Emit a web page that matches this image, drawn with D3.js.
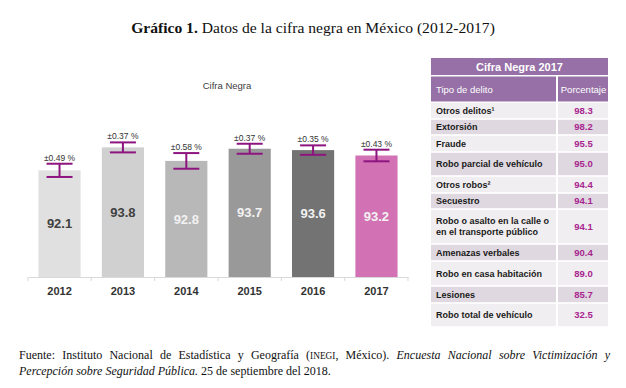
<!DOCTYPE html>
<html>
<head>
<meta charset="utf-8">
<script src="https://cdn.jsdelivr.net/npm/d3@7"></script>
<style>
  body { margin: 0; background: #fff; }
  svg { display: block; }
</style>
</head>
<body>
<div id="chart"></div>
<script>
// chart data
var years = ["2012", "2013", "2014", "2015", "2016", "2017"];
var cifra = [92.1, 93.8, 92.8, 93.7, 93.6, 93.2];
var errorPct = [0.49, 0.37, 0.58, 0.37, 0.35, 0.43];

// table data
var delitos = ["Otros delitos\u00b9", "Extorsión", "Fraude", "Robo parcial de vehículo",
  "Otros robos\u00b2", "Secuestro", "Robo o asalto en la calle o\nen el transporte público",
  "Amenazas verbales", "Robo en casa habitación", "Lesiones", "Robo total de vehículo"];
var porcentaje = [98.3, 98.2, 95.5, 95.0, 94.4, 94.1, 94.1, 90.4, 89.0, 85.7, 32.5];

// layout / styles
var barColors = ["#e0e0e0", "#d0d0d0", "#b8b8b8", "#999999", "#737373", "#d272b4"];
var labelColors = ["#404040", "#404040", "#f2f2f2", "#f2f2f2", "#f2f2f2", "#f2f2f2"];
var rowHeights = [17, 16, 17, 24, 17, 16, 35, 17, 25, 17, 24];
var errColor = "#8e1480";

var W = 626, H = 388;
var svg = d3.select("#chart").append("svg")
  .attr("width", W)
  .attr("height", H);

// main title
var title = svg.append("text")
  .attr("x", 313)
  .attr("y", 33)
  .attr("text-anchor", "middle")
  .style("font-family", "'Liberation Serif', serif")
  .style("font-size", "15.6px")
  .style("fill", "#111");
title.append("tspan").style("font-weight", "bold").text("Gráfico 1.");
title.append("tspan").text(" Datos de la cifra negra en México (2012-2017)");

// bar chart
var x = d3.scaleBand()
  .domain(years)
  .range([28, 408])
  .paddingInner(0.335)
  .paddingOuter(0.165);

var y = d3.scaleLinear()
  .domain([84.2, 96])
  .range([277, 117.7]);

var chart = svg.append("g")
  .style("font-family", "'Liberation Sans', Arial, sans-serif");

chart.append("text")
  .attr("x", 227)
  .attr("y", 89)
  .attr("text-anchor", "middle")
  .style("font-size", "9.5px")
  .style("fill", "#404040")
  .text("Cifra Negra");

var data = years.map(function(d, i) {
  return { year: d, value: cifra[i], err: errorPct[i], i: i };
});

chart.selectAll(".bar")
  .data(data)
  .join("rect")
  .attr("class", "bar")
  .attr("x", function(d) { return x(d.year); })
  .attr("y", function(d) { return y(d.value); })
  .attr("width", x.bandwidth())
  .attr("height", function(d) { return y.range()[0] - y(d.value); })
  .style("fill", function(d) { return barColors[d.i]; });

// x axis
var xAxis = d3.axisBottom(x).tickSize(0).tickPadding(10);
var gx = chart.append("g")
  .attr("transform", "translate(0," + y.range()[0] + ")")
  .call(xAxis);
gx.select(".domain").attr("stroke", "#d9d9d9").attr("stroke-width", 1.2);
gx.selectAll(".tick text")
  .style("font-size", "11px")
  .style("font-weight", "bold")
  .style("fill", "#333")
  .style("font-family", "'Liberation Sans', Arial, sans-serif");

// tick marks between categories
var edges = years.map(function(d) { return x(d) - x.step() * x.paddingInner() / 2; });
edges.push(x.range()[1]);
gx.selectAll(".sep")
  .data(edges)
  .join("line")
  .attr("class", "sep")
  .attr("x1", function(d) { return d; })
  .attr("x2", function(d) { return d; })
  .attr("y1", 0)
  .attr("y2", 4)
  .attr("stroke", "#d9d9d9");

// value labels
chart.selectAll(".val")
  .data(data)
  .join("text")
  .attr("class", "val")
  .attr("x", function(d) { return x(d.year) + x.bandwidth() / 2; })
  .attr("y", function(d) { return (y(d.value) + y.range()[0]) / 2; })
  .attr("dy", "0.35em")
  .attr("text-anchor", "middle")
  .style("font-size", "13px")
  .style("font-weight", "bold")
  .style("fill", function(d) { return labelColors[d.i]; })
  .text(function(d) { return d.value.toFixed(1); });

// error bars
var capW = 13;
var eb = chart.selectAll(".err")
  .data(data)
  .join("g")
  .attr("class", "err")
  .attr("transform", function(d) { return "translate(" + (x(d.year) + x.bandwidth() / 2) + ",0)"; })
  .attr("stroke", errColor)
  .attr("stroke-width", 2);
eb.append("line")
  .attr("x1", 0).attr("x2", 0)
  .attr("y1", function(d) { return y(d.value + d.err); })
  .attr("y2", function(d) { return y(d.value - d.err); });
eb.append("line")
  .attr("x1", -capW).attr("x2", capW)
  .attr("y1", function(d) { return y(d.value + d.err); })
  .attr("y2", function(d) { return y(d.value + d.err); });
eb.append("line")
  .attr("x1", -capW).attr("x2", capW)
  .attr("y1", function(d) { return y(d.value - d.err); })
  .attr("y2", function(d) { return y(d.value - d.err); });

chart.selectAll(".errlab")
  .data(data)
  .join("text")
  .attr("class", "errlab")
  .attr("x", function(d) { return x(d.year) + x.bandwidth() / 2; })
  .attr("y", function(d) { return y(d.value + d.err) - 3; })
  .attr("text-anchor", "middle")
  .style("font-size", "8.5px")
  .style("fill", "#333")
  .text(function(d) { return "±" + d.err.toFixed(2) + " %"; });

// table
var tx0 = 431, tx1 = 557, tx2 = 608;
var table = svg.append("g")
  .style("font-family", "'Liberation Sans', Arial, sans-serif");

table.append("rect")
  .attr("x", tx0).attr("y", 58)
  .attr("width", tx2 - tx0).attr("height", 17)
  .style("fill", "#9670a6");
table.append("text")
  .attr("x", (tx0 + tx2) / 2).attr("y", 70.5)
  .attr("text-anchor", "middle")
  .style("font-size", "11px")
  .style("font-weight", "bold")
  .style("fill", "#fff")
  .text("Cifra Negra 2017");

table.append("rect")
  .attr("x", tx0).attr("y", 76.5)
  .attr("width", tx1 - tx0 - 1).attr("height", 25)
  .style("fill", "#9670a6");
table.append("rect")
  .attr("x", tx1 + 1).attr("y", 76.5)
  .attr("width", tx2 - tx1 - 1).attr("height", 25)
  .style("fill", "#9670a6");
table.append("text")
  .attr("x", tx0 + 5).attr("y", 92.5)
  .style("font-family", "'Liberation Sans Narrow', 'Liberation Sans', Arial, sans-serif")
  .style("font-size", "9.5px")
  .style("fill", "#fff")
  .text("Tipo de delito");
table.append("text")
  .attr("x", (tx1 + tx2) / 2 + 1).attr("y", 92.5)
  .attr("text-anchor", "middle")
  .style("font-family", "'Liberation Sans Narrow', 'Liberation Sans', Arial, sans-serif")
  .style("font-size", "9.5px")
  .style("fill", "#fff")
  .text("Porcentaje");

var rows = [];
var yy = 102;
delitos.forEach(function(d, i) {
  rows.push({ name: d, pct: porcentaje[i], y: yy, h: rowHeights[i], i: i });
  yy += rowHeights[i];
});

var rg = table.selectAll(".row")
  .data(rows)
  .join("g")
  .attr("class", "row")
  .attr("transform", function(d) { return "translate(0," + d.y + ")"; });

rg.append("rect")
  .attr("x", tx0).attr("y", 0.8)
  .attr("width", tx1 - tx0 - 1)
  .attr("height", function(d) { return d.h - 1.6; })
  .style("fill", function(d) { return d.i % 2 ? "#dfd8e0" : "#f1eef1"; });
rg.append("rect")
  .attr("x", tx1 + 1).attr("y", 0.8)
  .attr("width", tx2 - tx1 - 1)
  .attr("height", function(d) { return d.h - 1.6; })
  .style("fill", function(d) { return d.i % 2 ? "#dfd8e0" : "#f1eef1"; });

rg.append("text")
  .attr("x", tx0 + 5)
  .attr("y", function(d) {
    var n = d.name.split("\n").length;
    return d.h / 2 - (n - 1) * 5.5;
  })
  .attr("dy", "0.35em")
  .style("font-size", "9px")
  .style("font-weight", "bold")
  .style("fill", "#1a1a1a")
  .each(function(d) {
    var t = d3.select(this);
    d.name.split("\n").forEach(function(line, k) {
      t.append("tspan")
        .attr("x", tx0 + 5)
        .attr("dy", k === 0 ? "0.35em" : "11px")
        .text(line);
    });
  });

rg.append("text")
  .attr("x", (tx1 + tx2) / 2 + 1)
  .attr("y", function(d) { return d.h / 2; })
  .attr("dy", "0.35em")
  .attr("text-anchor", "middle")
  .style("font-size", "9.5px")
  .style("font-weight", "bold")
  .style("fill", "#a8248f")
  .text(function(d) { return d.pct.toFixed(1); });

// footer (source note), first line justified
var foot = svg.append("g")
  .style("font-family", "'Liberation Serif', serif")
  .style("font-size", "12px")
  .style("fill", "#111");

var l1 = foot.append("text").attr("x", 19).attr("y", 359);
l1.append("tspan").text("Fuente: Instituto Nacional de Estadística y Geografía (");
l1.append("tspan").style("font-size", "9.3px").text("INEGI");
l1.append("tspan").text(", México). ");
l1.append("tspan").style("font-style", "italic").text("Encuesta Nacional sobre Victimización y");

var natural = l1.node().getComputedTextLength();
var spaces = l1.text().split(" ").length - 1;
l1.style("word-spacing", ((610 - 19 - natural) / spaces) + "px");

var l2 = foot.append("text").attr("x", 19).attr("y", 375);
l2.append("tspan").style("font-style", "italic").text("Percepción sobre Seguridad Pública.");
l2.append("tspan").text(" 25 de septiembre del 2018.");
</script>
</body>
</html>
